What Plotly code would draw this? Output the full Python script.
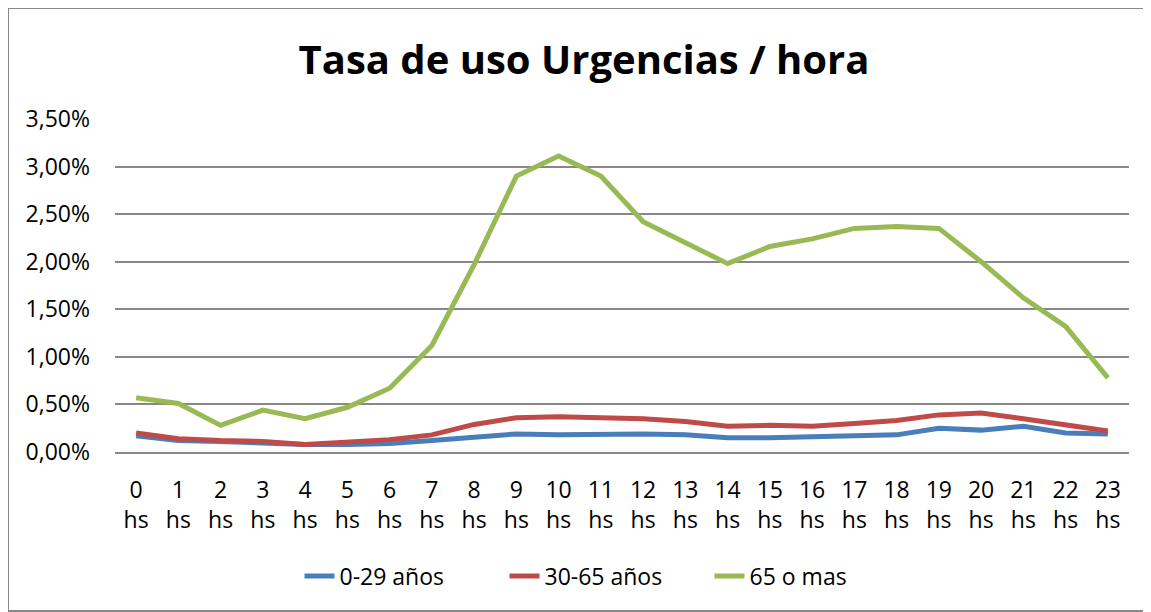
import plotly.graph_objects as go

hours = [f"{h}<br>hs" for h in range(24)]
y_0_29 = [0.0017, 0.0012, 0.0011, 0.0009, 0.0008, 0.0008, 0.0009, 0.0012, 0.0016, 0.0019,
          0.0018, 0.0019, 0.0019, 0.0018, 0.0015, 0.0015, 0.0016, 0.0017, 0.0018, 0.0025,
          0.0023, 0.0027, 0.0020, 0.0019]
y_30_65 = [0.0020, 0.0014, 0.0012, 0.0011, 0.0008, 0.0010, 0.0013, 0.0018, 0.0029, 0.0036,
           0.0037, 0.0036, 0.0035, 0.0032, 0.0027, 0.0028, 0.0027, 0.0030, 0.0033, 0.0039,
           0.0041, 0.0035, 0.0029, 0.0022]
y_65 = [0.0057, 0.0051, 0.0028, 0.0044, 0.0035, 0.0047, 0.0067, 0.0112, 0.0197, 0.0290,
        0.0311, 0.0290, 0.0242, 0.0220, 0.0198, 0.0216, 0.0224, 0.0235, 0.0237, 0.0235,
        0.0200, 0.0162, 0.0132, 0.0078]
series_names = ["0-29 años", "30-65 años", "65 o mas"]
colors = ["#4A7EBB", "#BE4B48", "#98B954"]
title_text = "Tasa de uso Urgencias / hora"

FONT = "Open Sans"
fig = go.Figure()
for name, ys, c in zip(series_names, [y_0_29, y_30_65, y_65], colors):
    fig.add_trace(go.Scatter(x=hours, y=ys, name=name, mode="lines",
                             line=dict(color=c, width=5)))

# page body has an 8px margin; work in reference-page coordinates shifted by OFF
OFF = 8
W, H = 1151 - OFF, 612 - OFF
L, R, T, B = 115, 1129, 119, 452          # plot area in page coords
ml, mr, mt, mb = L - OFF, W - (R - OFF), T - OFF, H - (B - OFF)
pw, ph = W - ml - mr, H - mt - mb
px = lambda x: (x - OFF - ml) / pw
py = lambda y: (H - mb - (y - OFF)) / ph

fig.update_layout(
    width=W, height=H,
    margin=dict(l=ml, r=mr, t=mt, b=mb),
    paper_bgcolor="white", plot_bgcolor="white",
    separators=",.",
    font=dict(family=FONT, size=23, color="#000000"),
    title=dict(text="<b>" + title_text + "</b>", x=px(584), xanchor="center",
               xref="paper", y=1 - (60 - OFF) / H, yanchor="middle",
               font=dict(family=FONT, size=40, color="#000000")),
    showlegend=True,
    legend=dict(orientation="h", x=px(607), xanchor="center", y=py(576), yanchor="middle",
                font=dict(family=FONT, size=23), traceorder="normal",
                entrywidth=160, entrywidthmode="pixels"),
    xaxis=dict(type="category", range=[-0.5, 23.5], showgrid=False,
               showline=True, linecolor="#888888", linewidth=2,
               ticks="", tickangle=0, ticklabelstandoff=16,
               tickfont=dict(family=FONT, size=23)),
    yaxis=dict(range=[0, 0.035], dtick=0.005, tickformat=".2%",
               showgrid=True, gridcolor="#888888", gridwidth=2, zeroline=False,
               showline=False, ticks="", ticklabelstandoff=24,
               tickfont=dict(family=FONT, size=23)),
    shapes=[dict(type="rect", xref="paper", yref="paper",
                 x0=px(8), x1=px(1149), y0=py(611), y1=py(8),
                 line=dict(color="#888888", width=2), layer="below")],
)

fig.write_html("out.html")
